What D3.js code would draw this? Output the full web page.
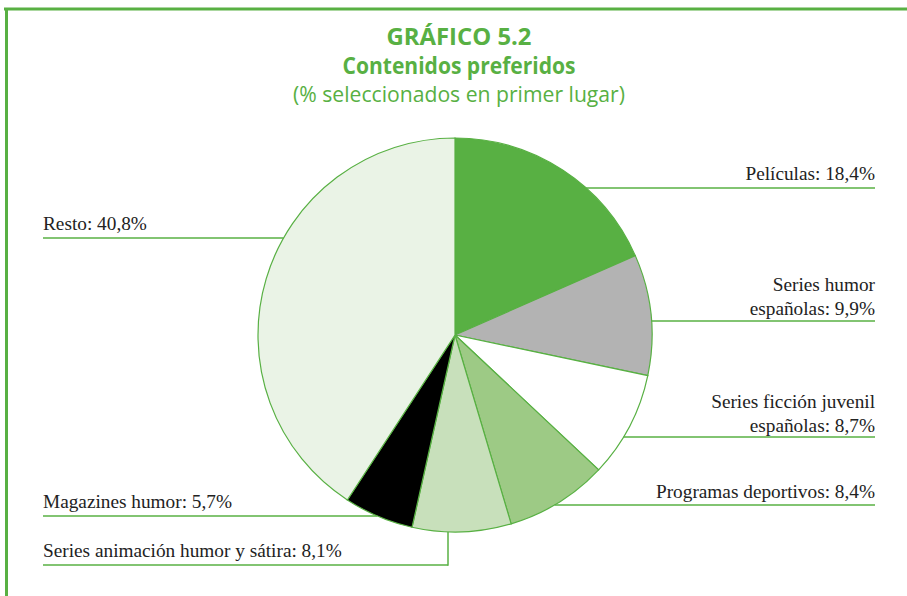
<!DOCTYPE html>
<html><head><meta charset="utf-8">
<script src="https://cdn.jsdelivr.net/npm/d3@7"></script>
<style>body{margin:0;background:#fff}svg{display:block}</style>
</head><body>
<svg id="c" width="907" height="596"></svg>
<script>
const categories = ["Películas","Series humor españolas","Series ficción juvenil españolas","Programas deportivos","Series animación humor y sátira","Magazines humor","Resto"];
const values = [18.4, 9.9, 8.7, 8.4, 8.1, 5.7, 40.8];
const labelLines = [["Películas: 18,4%"],["Series humor","españolas: 9,9%"],["Series ficción juvenil","españolas: 8,7%"],["Programas deportivos: 8,4%"],["Series animación humor y sátira: 8,1%"],["Magazines humor: 5,7%"],["Resto: 40,8%"]];
const colors = ["#58b043","#b3b3b3","#ffffff","#9dca85","#c8e0bb","#000000","#eaf3e6"];

const svg = d3.select("#c");
const green = "#58b043";
const cx = 455, cy = 335, r = 197;

// frame
svg.append("line").attr("x1",4).attr("x2",907).attr("y1",9).attr("y2",9).attr("stroke",green).attr("stroke-width",3);
svg.append("line").attr("x1",6.5).attr("x2",6.5).attr("y1",8).attr("y2",596).attr("stroke",green).attr("stroke-width",3);

// titles (condensed look via textLength)
const tf = "'Open Sans',sans-serif";
const titles = [
  {t:"GRÁFICO 5.2", y:45, w:"bold", s:23.5, len:145},
  {t:"Contenidos preferidos", y:74, w:"bold", s:23.5, len:233},
  {t:"(% seleccionados en primer lugar)", y:102, w:"normal", s:22.5, len:332}
];
titles.forEach(T=>{
  svg.append("text").attr("x",459).attr("y",T.y).attr("text-anchor","middle").attr("font-family",tf)
    .attr("font-weight",T.w).attr("font-size",T.s).attr("fill",green)
    .attr("textLength",T.len).attr("lengthAdjust","spacingAndGlyphs").text(T.t);
});

const pie = d3.pie().sort(null).value(d=>d);
const arcs = pie(values);
const arc = d3.arc().innerRadius(0).outerRadius(r);
const g = svg.append("g").attr("transform",`translate(${cx},${cy})`);
g.selectAll("path").data(arcs).join("path").attr("d",arc)
  .attr("fill",(d,i)=>colors[i]).attr("stroke",green).attr("stroke-width",1.2);

const layout = [
  {side:"r", y:188, t:180},
  {side:"r", y:321, t:315},
  {side:"r", y:437, t:432},
  {side:"r", y:505, t:498},
  {side:"v", y:565, t:557, vx:448},
  {side:"l", y:516, t:508},
  {side:"l", y:238, t:230}
];
const lf = "'Liberation Serif','Times New Roman',serif";
const lg = svg.append("g");
layout.forEach((L,i)=>{
  const dy = L.y - cy;
  const dx = Math.sqrt(Math.max(0, r*r - dy*dy));
  let x1, x2, anchor, tx;
  if (L.side==="r") { x1 = cx + dx; x2 = 875; anchor="end"; tx=875; }
  else if (L.side==="l") { x1 = 43; x2 = cx - dx; anchor="start"; tx=43; }
  else {
    x1 = 43; x2 = L.vx; anchor="start"; tx=43;
    const ddx = L.vx - cx;
    const yb = cy + Math.sqrt(r*r - ddx*ddx);
    lg.append("line").attr("x1",L.vx).attr("x2",L.vx).attr("y1",yb).attr("y2",L.y+0.75).attr("stroke",green).attr("stroke-width",1.5);
  }
  lg.append("line").attr("x1",x1).attr("x2",x2).attr("y1",L.y).attr("y2",L.y).attr("stroke",green).attr("stroke-width",1.5);
  const lines = labelLines[i];
  lines.forEach((s,k)=>{
    lg.append("text").attr("x",tx).attr("y",L.t - (lines.length-1-k)*24)
      .attr("text-anchor",anchor).attr("font-family",lf).attr("font-size",19.3).attr("fill","#222").text(s);
  });
});
</script>
</body></html>
